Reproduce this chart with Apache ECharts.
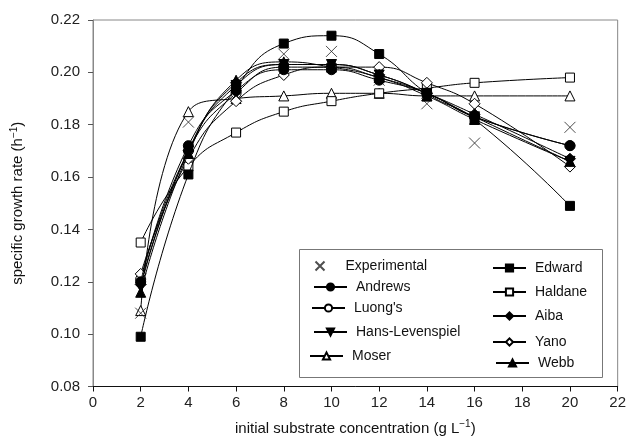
<!DOCTYPE html>
<html>
<head>
<meta charset="utf-8">
<script src="https://cdn.jsdelivr.net/npm/echarts@6/dist/echarts.min.js"></script>
<style>html,body{margin:0;padding:0;background:#fff;}#c{width:629px;height:441px;}</style>
</head>
<body>
<div id="c"></div>
<script>
const xValues = [2, 4, 6, 8, 10, 12, 14, 16, 20];
const xTicks = [0, 2, 4, 6, 8, 10, 12, 14, 16, 18, 20, 22];
const yTicks = [0.08, 0.10, 0.12, 0.14, 0.16, 0.18, 0.20, 0.22];
const experimental = [0.108, 0.181, 0.191, 0.207, 0.208, 0.197, 0.188, 0.173, 0.179];
const andrews      = [0.120, 0.172, 0.193, 0.201, 0.201, 0.197, 0.192, 0.183, 0.172];
const luongs       = [0.121, 0.170, 0.192, 0.202, 0.202, 0.198, 0.192, 0.183, 0.172];
const hansLevenspiel = [0.118, 0.170, 0.195, 0.203, 0.203, 0.199, 0.192, 0.183, 0.166];
const moser        = [0.109, 0.185, 0.190, 0.191, 0.192, 0.192, 0.191, 0.191, 0.191];
const edward       = [0.099, 0.161, 0.194, 0.211, 0.214, 0.207, 0.192, 0.182, 0.149];
const haldane      = [0.135, 0.164, 0.177, 0.185, 0.189, 0.192, 0.194, 0.196, 0.198];
const aiba         = [0.119, 0.170, 0.196, 0.203, 0.203, 0.199, 0.192, 0.184, 0.167];
const yano         = [0.123, 0.167, 0.189, 0.199, 0.202, 0.202, 0.196, 0.188, 0.164];
const webb         = [0.116, 0.169, 0.197, 0.204, 0.202, 0.198, 0.191, 0.182, 0.166];
const names = ['Experimental','Andrews',"Luong's",'Hans-Levenspiel','Moser','Edward','Haldane','Aiba','Yano','Webb'];

const FONT = '"Liberation Sans", Arial, sans-serif';
const pairs = arr => xValues.map((x, i) => [x, arr[i]]);
const crossPath = 'path://M0,0L10,10M10,0L0,10';

function lineSeries(name, data, symbol, filled, size, rotate) {
  return {
    name: name, type: 'line', data: pairs(data), smooth: true,
    symbol: symbol, symbolSize: size, symbolRotate: rotate || 0,
    showAllSymbol: true, z: filled ? 4 : 2,
    lineStyle: { color: '#000', width: 1 },
    itemStyle: { color: filled ? '#000' : '#fff', borderColor: '#000', borderWidth: 1 },
    emphasis: { disabled: true }, animation: false
  };
}

const series = [
  { name: 'Experimental', type: 'scatter', data: pairs(experimental), symbol: crossPath, symbolSize: 11,
    itemStyle: { color: 'none', borderColor: '#222', borderWidth: 1 }, z: 3, animation: false },
  lineSeries('Andrews', andrews, 'circle', true, 10),
  lineSeries("Luong's", luongs, 'circle', false, 10),
  lineSeries('Hans-Levenspiel', hansLevenspiel, 'triangle', true, 10, 180),
  lineSeries('Moser', moser, 'triangle', false, 10),
  lineSeries('Edward', edward, 'rect', true, 9),
  lineSeries('Haldane', haldane, 'rect', false, 9),
  lineSeries('Aiba', aiba, 'diamond', true, 11),
  lineSeries('Yano', yano, 'diamond', false, 11),
  lineSeries('Webb', webb, 'triangle', true, 10)
];

const legendPos = [
  ['Experimental', 313, 259], ['Andrews', 313, 280], ["Luong's", 311, 301], ['Hans-Levenspiel', 313, 325], ['Moser', 309, 349],
  ['Edward', 492, 261], ['Haldane', 492, 285], ['Aiba', 492, 309], ['Yano', 492, 335], ['Webb', 495, 356]
];
const legends = legendPos.map(p => ({
  data: [p[0]], left: p[1], top: p[2], itemWidth: 33, itemHeight: 9, itemGap: 0,
  selectedMode: false, padding: 0,
  textStyle: { fontFamily: FONT, fontSize: 14, color: '#111', padding: [0, 0, 0, 4] }
}));

const option = {
  backgroundColor: '#fff',
  animation: false,
  grid: { left: 93, right: 10, top: 20, bottom: 53, show: true, borderColor: '#888', borderWidth: 1 },
  legend: legends,
  graphic: [{ type: 'rect', shape: { x: 299.5, y: 249.5, width: 303, height: 128 },
    style: { fill: 'none', stroke: '#777', lineWidth: 1 }, z: 1 }],
  xAxis: {
    type: 'value', min: 0, max: 22, interval: 2,
    name: '{a|initial substrate concentration (g L}{s|−1}{a|)}',
    nameLocation: 'middle', nameGap: 33,
    nameTextStyle: { rich: { a: { fontFamily: FONT, fontSize: 15, color: '#111' },
                             s: { fontFamily: FONT, fontSize: 10, color: '#111', padding: [0, 0, 8, 0] } } },
    axisLine: { show: true, lineStyle: { color: '#111', width: 1 } },
    axisTick: { show: true, inside: false, length: 5, lineStyle: { color: '#111' } },
    axisLabel: { fontFamily: FONT, fontSize: 15, color: '#222', margin: 9,
      formatter: v => xTicks.includes(v) ? String(v) : '' },
    splitLine: { show: false }
  },
  yAxis: {
    type: 'value', min: 0.08, max: 0.22, interval: 0.02,
    name: '{a|specific growth rate (h}{s|−1}{a|)}',
    nameLocation: 'middle', nameGap: 66, nameRotate: 90,
    nameTextStyle: { rich: { a: { fontFamily: FONT, fontSize: 15, color: '#111' },
                             s: { fontFamily: FONT, fontSize: 10, color: '#111', padding: [0, 0, 8, 0] } } },
    axisLine: { show: true, lineStyle: { color: '#888', width: 1 } },
    axisTick: { show: true, inside: false, length: 5, lineStyle: { color: '#555' } },
    axisLabel: { fontFamily: FONT, fontSize: 15, color: '#222', margin: 13,
      formatter: v => { const t = yTicks.find(y => Math.abs(y - v) < 1e-9); return t !== undefined ? t.toFixed(2) : ''; } },
    splitLine: { show: false }
  },
  series: series
};
const chart = echarts.init(document.getElementById('c'), null, { renderer: 'canvas' });
chart.setOption(option);
</script>
</body>
</html>
